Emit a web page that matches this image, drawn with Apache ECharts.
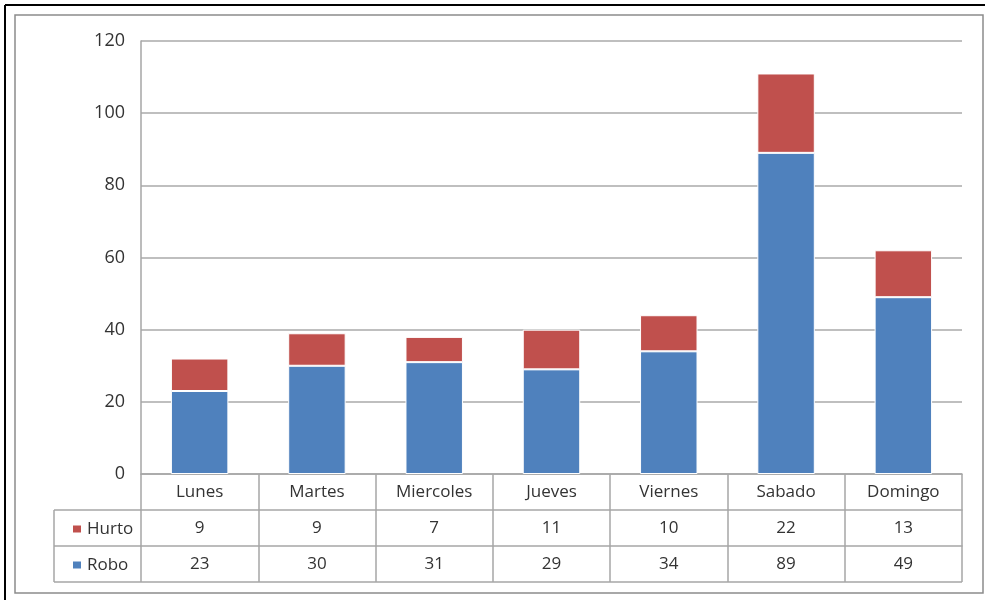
<!DOCTYPE html>
<html>
<head>
<meta charset="utf-8">
<script src="https://cdn.jsdelivr.net/npm/echarts@6/dist/echarts.min.js"></script>
<style>
  html, body { margin: 0; padding: 0; background: #fff; }
  #chart { width: 985px; height: 603px; }
</style>
</head>
<body>
<div id="chart"></div>
<script>
// datos por día
var dias = ['Lunes', 'Martes', 'Miercoles', 'Jueves', 'Viernes', 'Sabado', 'Domingo'];
var hurto = [9, 9, 7, 11, 10, 22, 13];
var robo = [23, 30, 31, 29, 34, 89, 49];
var yTicks = [0, 20, 40, 60, 80, 100, 120];

var chart = echarts.init(document.getElementById('chart'));
var font = 'Open Sans';
var txt = '#333';
var lineCol = '#a6a6a6';

// ejes inferiores que hacen de tabla de datos
function tableAxis(labels, offset) {
    return {
        type: 'category',
        position: 'bottom',
        offset: offset,
        data: labels,
        axisLine: { show: true, lineStyle: { color: lineCol, width: 1.5 } },
        axisTick: { show: true, length: 36, inside: false, lineStyle: { color: lineCol, width: 1.5 } },
        axisLabel: { margin: 10, fontFamily: font, fontSize: 17, color: txt, interval: 0 }
    };
}

var option = {
    animation: false,
    grid: { left: 141, right: 23, top: 41, bottom: 129, containLabel: false, outerBoundsMode: 'none' },
    legend: {
        data: ['Hurto', 'Robo'],
        orient: 'vertical',
        left: 66,
        top: 514,
        itemWidth: 10,
        itemHeight: 9,
        itemGap: 16,
        icon: 'rect',
        textStyle: { fontFamily: font, fontSize: 17, color: txt, lineHeight: 20 }
    },
    xAxis: [
        tableAxis(dias, 0),
        tableAxis(hurto.map(String), 36),
        tableAxis(robo.map(String), 72)
    ],
    yAxis: {
        type: 'value',
        min: yTicks[0],
        max: yTicks[yTicks.length - 1],
        interval: 20,
        axisLine: { show: true, lineStyle: { color: lineCol, width: 1.5 } },
        axisTick: { show: false },
        axisLabel: { margin: 16, fontFamily: font, fontSize: 18, color: txt },
        splitLine: { lineStyle: { color: '#bfbfbf', width: 2 } }
    },
    series: [
        {
            name: 'Robo',
            type: 'bar',
            stack: 'total',
            xAxisIndex: 0,
            barWidth: '49%',
            itemStyle: { color: '#4f81bd', borderColor: '#fff', borderWidth: 1 },
            data: robo
        },
        {
            name: 'Hurto',
            type: 'bar',
            stack: 'total',
            xAxisIndex: 0,
            barWidth: '49%',
            itemStyle: { color: '#c0504d', borderColor: '#fff', borderWidth: 1 },
            data: hurto
        }
    ],
    graphic: [
        // marco exterior
        { type: 'line', shape: { x1: 5, y1: 5, x2: 985, y2: 5 }, style: { stroke: '#000', lineWidth: 2 } },
        { type: 'line', shape: { x1: 5, y1: 5, x2: 5, y2: 600 }, style: { stroke: '#000', lineWidth: 2 } },
        { type: 'rect', shape: { x: 15, y: 15, width: 968, height: 578 }, style: { fill: 'none', stroke: '#8c8c8c', lineWidth: 1.5 } },
        // celdas de la leyenda y borde inferior de la tabla
        { type: 'line', shape: { x1: 54, y1: 510, x2: 141, y2: 510 }, style: { stroke: lineCol, lineWidth: 1.5 } },
        { type: 'line', shape: { x1: 54, y1: 546, x2: 141, y2: 546 }, style: { stroke: lineCol, lineWidth: 1.5 } },
        { type: 'line', shape: { x1: 54, y1: 582, x2: 962, y2: 582 }, style: { stroke: lineCol, lineWidth: 1.5 } },
        { type: 'line', shape: { x1: 54, y1: 510, x2: 54, y2: 582 }, style: { stroke: lineCol, lineWidth: 1.5 } }
    ]
};

chart.setOption(option);
</script>
</body>
</html>
